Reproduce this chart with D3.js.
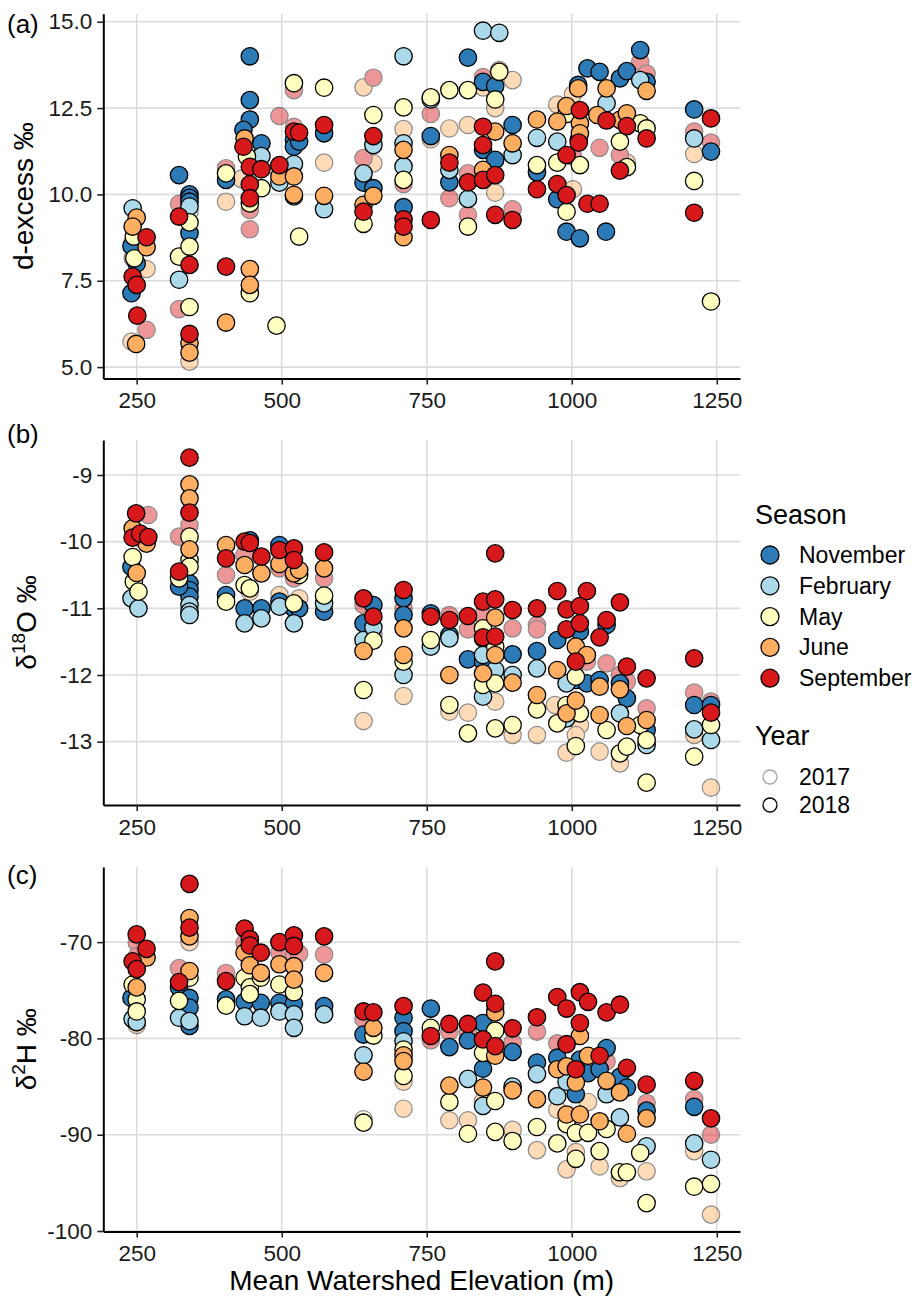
<!DOCTYPE html>
<html><head><meta charset="utf-8">
<script src="https://cdn.jsdelivr.net/npm/d3@7"></script>
<style>body{margin:0;background:#fff}svg{display:block}</style>
</head><body>
<svg id="chart" width="915" height="1299"></svg>
<script>
const seasons = ["Nov","Feb","May","Jun","Sep"];
const seasonNames = ["November","February","May","June","September"];
const seasonColors = ["#2C7BB6","#ABD9E9","#FFFFBF","#FDAE61","#D7191C"];
const years = ["2017","2018"];
const xTicks = [250,500,750,1000,1250];

// [elevation, season, value]
const dxs2018 = [[243,"Feb",9.6],[250,"Jun",9.33],[243,"Jun",9.07],[245,"May",8.78],[241,"Nov",8.51],[246,"May",8.15],[250,"Nov",8.0],[243,"Sep",7.62],[250,"Sep",7.38],[241,"Nov",7.14],[251,"Sep",6.49],[249,"Jun",5.67],
[267,"Sep",8.76],[267,"Jun",8.47],[323,"Nov",10.56],[323,"Sep",9.36],[323,"May",8.2],[323,"Feb",7.53],
[341,"Nov",10.0],[341,"Nov",9.9],[341,"Nov",9.79],[341,"Feb",9.65],[341,"May",9.19],[341,"Nov",8.88],[341,"May",8.49],[341,"Sep",7.96],[341,"May",6.74],[341,"Sep",5.96],[341,"Jun",5.7],[341,"Jun",5.42],
[404,"May",10.61],[404,"Nov",10.42],[404,"Sep",7.91],[404,"Jun",6.29],
[445,"Nov",14.0],[445,"Nov",12.73],[445,"Nov",12.17],[434,"Nov",11.87],[436,"Jun",11.62],[434,"Sep",11.38],[440,"May",11.1],[445,"Sep",10.8],[445,"Sep",10.29],[445,"Sep",9.89],[445,"May",9.74],[445,"Jun",7.84],[445,"Jun",7.38],[445,"May",7.14],
[465,"Nov",11.48],[465,"Feb",11.11],[465,"Sep",10.73],[465,"May",10.18],
[496,"Sep",10.85],[496,"Jun",10.52],[496,"Feb",10.34],[491,"May",6.2],
[521,"May",13.22],[521,"Sep",11.82],[521,"Nov",11.58],[521,"Nov",11.38],[521,"Feb",10.88],[521,"Jun",10.52],[521,"Jun",9.99],[521,"Feb",9.94],
[530,"Sep",11.79],[530,"Nov",11.53],[530,"May",8.78],
[573,"May",13.09],[573,"Sep",12.01],[573,"Nov",11.77],[573,"Jun",9.96],[573,"Feb",9.57],
[641,"Feb",10.61],[641,"Nov",10.34],[641,"Jun",9.7],[641,"Sep",9.5],[641,"May",9.15],
[658,"May",12.3],[658,"Sep",11.69],[658,"Feb",11.43],[658,"Nov",10.18],[658,"Jun",9.96],
[710,"Feb",14.0],[710,"May",12.52],[710,"Feb",11.48],[710,"Jun",11.29],[710,"Feb",10.81],[710,"May",10.42],[710,"Nov",9.63],[710,"Sep",9.28],[710,"Sep",9.07],[710,"Jun",8.76],
[757,"May",12.81],[757,"Feb",12.75],[757,"Nov",11.69],[757,"Sep",9.26],
[789,"May",13.02],[789,"Jun",11.14],[789,"Sep",10.92],[789,"Feb",10.71],[789,"Nov",10.35],
[821,"Nov",13.96],[821,"May",13.02],[821,"Sep",10.35],[821,"Feb",9.87],[821,"May",9.07],
[847,"Feb",14.74],[847,"Nov",13.26],[847,"Sep",11.96],[847,"Sep",11.43],[847,"Nov",11.29],[847,"Jun",10.71],[847,"Sep",10.42],
[868,"Nov",13.14],[868,"May",12.75],[868,"Jun",11.82],[868,"Nov",11.0],[868,"Sep",10.56],[868,"Sep",9.41],
[875,"Feb",14.68],[875,"May",13.55],
[898,"Nov",12.01],[898,"Jun",11.48],[898,"Feb",11.14],[898,"Sep",9.26],
[940,"Jun",12.17],[940,"Feb",11.64],[940,"May",10.85],[940,"Nov",10.64],[940,"Sep",10.15],
[975,"Jun",12.11],[975,"Feb",11.53],[975,"May",10.92],[975,"Sep",10.3],[975,"Nov",9.86],
[991,"Jun",12.56],[991,"May",12.33],[991,"Sep",11.14],[991,"Sep",9.98],[991,"May",9.5],[991,"Nov",8.92],
[1011,"Nov",13.17],[1011,"Jun",13.07],[1014,"Sep",12.44],[1014,"Jun",12.06],[1014,"Jun",11.77],[1012,"Nov",11.58],[1012,"Sep",11.5],[1014,"May",10.85],
[1014,"Nov",8.73],[1027,"Nov",13.65],[1027,"Sep",9.73],
[1048,"Nov",13.55],[1060,"Jun",13.07],[1060,"Feb",12.64],[1044,"Jun",12.3],[1060,"Sep",12.14],[1048,"Sep",9.73],
[1059,"Nov",8.92],
[1083,"Nov",13.36],[1083,"Jun",12.16],[1083,"May",11.53],[1083,"Sep",10.69],
[1095,"Nov",13.57],[1095,"Jun",12.35],[1095,"Sep",11.98],[1095,"May",10.79],
[1118,"Nov",14.18],[1118,"Feb",13.31],[1118,"May",12.06],
[1129,"Nov",13.26],[1129,"Jun",13.0],[1129,"May",11.91],[1129,"Sep",11.62],
[1211,"Nov",12.46],[1211,"Feb",11.62],[1211,"May",10.39],[1211,"Sep",9.47],
[1240,"Sep",12.2],[1240,"Nov",11.24],[1240,"May",6.9]];

const dxs2017 = [[243,"Nov",8.6],[243,"Sep",8.15],[267,"Jun",7.84],[267,"Sep",6.08],[241,"Jun",5.74],[323,"Sep",9.73],[323,"Sep",6.68],[341,"Feb",9.5],[341,"Jun",5.16],[404,"Sep",10.76],[404,"Jun",9.79],[430,"Jun",10.45],[445,"Sep",8.99],[445,"Sep",9.55],[496,"Sep",12.27],[521,"Sep",13.02],[521,"Sep",11.96],[573,"Jun",10.92],[641,"Jun",13.1],[641,"Sep",11.05],[658,"Sep",13.38],[658,"Jun",10.9],[710,"Jun",11.89],[710,"Sep",10.3],[757,"Sep",12.33],[757,"Jun",11.6],[789,"Jun",11.91],[789,"Sep",9.89],[821,"Jun",12.01],[821,"Sep",10.61],[821,"Sep",9.41],[847,"Sep",13.4],[847,"Jun",13.1],[868,"Jun",12.5],[868,"Jun",10.05],[875,"Sep",13.6],[898,"Jun",13.31],[898,"Sep",9.57],[975,"Jun",12.6],[1002,"Jun",12.9],[1002,"Sep",11.1],[1002,"Jun",10.15],[1048,"Sep",11.35],[1083,"Sep",11.14],[1095,"Jun",10.92],[1118,"Sep",13.84],[1129,"Sep",13.5],[1211,"Sep",11.82],[1211,"Jun",11.17],[1240,"Sep",11.5]];

const o18_2018 = [[249,"Sep",-9.575],[243,"Sep",-9.94],[256,"Sep",-9.88],[270,"Sep",-9.93],[267,"Jun",-10.03],[243,"Jun",-9.8],[243,"May",-10.23],[241,"Nov",-10.38],[250,"Jun",-10.47],[245,"May",-10.6],[253,"May",-10.75],[241,"Feb",-10.85],[253,"Feb",-11.0],
[341,"Sep",-8.74],[341,"Jun",-9.14],[341,"Jun",-9.35],[341,"Sep",-9.565],[341,"May",-9.925],[341,"Jun",-10.115],[341,"May",-10.275],[341,"May",-10.375],[341,"Nov",-10.625],[341,"Nov",-10.725],[341,"Nov",-10.825],[341,"Feb",-10.95],[341,"Feb",-11.05],[341,"Feb",-11.1],
[323,"Sep",-10.45],[323,"May",-10.55],[323,"Nov",-10.675],
[404,"Jun",-10.05],[404,"Sep",-10.25],[404,"Nov",-10.8],[404,"May",-10.9],
[436,"Sep",-10.0],[436,"Jun",-10.35],[436,"May",-10.65],[436,"Nov",-11.0],[436,"Feb",-11.225],
[445,"Nov",-9.98],[445,"Sep",-10.02],[445,"May",-10.7],
[465,"Sep",-10.225],[465,"Jun",-10.475],[465,"Nov",-11.0],[465,"Feb",-11.15],
[496,"Nov",-10.05],[496,"Sep",-10.125],[496,"Jun",-10.335],[496,"Feb",-10.975],[496,"Nov",-10.9],
[521,"Sep",-10.1],[521,"Sep",-10.275],[521,"Jun",-10.475],[521,"May",-10.925],[521,"Nov",-11.0],[521,"Feb",-11.225],
[530,"Jun",-10.425],[530,"May",-10.5],[530,"Nov",-11.0],
[573,"Sep",-10.16],[573,"Jun",-10.4],[573,"May",-10.81],[573,"Feb",-10.925],[573,"Nov",-11.05],
[641,"Sep",-10.85],[641,"Nov",-11.225],[641,"Feb",-11.475],[641,"Jun",-11.64],[641,"May",-12.225],
[658,"Nov",-10.95],[658,"Sep",-11.125],[658,"Feb",-11.285],[658,"May",-11.485],
[710,"Sep",-10.725],[710,"Nov",-10.85],[710,"Nov",-11.1],[710,"Jun",-11.3],[710,"Jun",-11.7],[710,"May",-11.8],[710,"Feb",-12.0],
[757,"Nov",-11.075],[757,"Sep",-11.125],[757,"May",-11.475],[757,"Feb",-11.575],
[789,"Sep",-11.175],[789,"Nov",-11.4],[789,"Feb",-11.45],[789,"Jun",-12.0],[789,"May",-12.45],
[821,"Sep",-11.115],[821,"Nov",-11.765],[821,"May",-12.875],
[847,"Sep",-10.9],[847,"May",-11.3],[847,"Nov",-11.45],[847,"Sep",-11.435],[847,"Feb",-11.7],[847,"Nov",-11.8],[847,"Jun",-11.975],[847,"May",-12.15],[847,"Feb",-12.325],
[868,"Sep",-10.175],[868,"Sep",-10.865],[868,"Jun",-11.14],[868,"Sep",-11.425],[868,"May",-11.575],[868,"Jun",-11.7],[868,"Feb",-11.925],[868,"May",-12.125],[868,"May",-12.8],
[898,"Sep",-11.025],[898,"Nov",-11.69],[898,"Feb",-12.0],[898,"Jun",-12.115],[898,"May",-12.75],
[940,"Sep",-11.0],[940,"Nov",-11.64],[940,"Feb",-11.9],[940,"Jun",-12.3],[940,"May",-12.515],
[975,"Sep",-10.74],[975,"Nov",-11.475],[975,"Jun",-11.925],[975,"May",-12.725],
[991,"Sep",-11.015],[991,"Sep",-11.315],[991,"Feb",-12.125],[991,"May",-12.45],[991,"Jun",-12.575],[991,"Feb",-12.65],
[1007,"Jun",-11.575],[1007,"Sep",-11.8],[1007,"May",-12.025],[1007,"Nov",-12.075],[1007,"Jun",-12.385],[1007,"May",-13.065],
[1014,"Sep",-10.965],[1014,"Sep",-11.225],[1014,"Nov",-11.35],[1014,"May",-12.575],
[1026,"Sep",-10.74],[1026,"Jun",-11.7],[1026,"Nov",-12.125],
[1048,"Sep",-11.435],[1048,"Nov",-12.075],[1048,"Jun",-12.175],[1048,"Jun",-12.6],
[1060,"Sep",-11.175],[1060,"Nov",-11.25],[1060,"May",-12.825],
[1083,"Sep",-10.91],[1083,"Nov",-12.125],[1083,"Jun",-12.215],[1083,"Feb",-12.575],[1083,"May",-13.175],
[1095,"Sep",-11.875],[1095,"Nov",-12.35],[1095,"Jun",-12.765],[1095,"May",-13.075],
[1118,"May",-12.75],
[1129,"Sep",-12.05],[1129,"Nov",-12.825],[1129,"Jun",-12.675],[1129,"May",-12.975],[1129,"Feb",-13.05],[1129,"May",-13.615],
[1211,"Sep",-11.75],[1211,"Nov",-12.45],[1211,"Feb",-12.815],[1211,"May",-13.225],
[1240,"Nov",-12.45],[1240,"Sep",-12.565],[1240,"May",-12.75],[1240,"Feb",-12.975]];

const o18_2017 = [[270,"Sep",-9.6],[323,"Sep",-9.925],[341,"Sep",-9.75],[404,"Sep",-10.5],[436,"Sep",-10.2],[445,"Jun",-10.75],[496,"Jun",-10.8],[496,"Sep",-10.4],[521,"Sep",-10.55],[530,"Jun",-10.85],[573,"Sep",-10.55],[641,"Sep",-10.95],[641,"Jun",-12.69],[658,"Sep",-11.4],[710,"Sep",-11.0],[710,"Jun",-12.315],[789,"Sep",-11.1],[789,"Jun",-12.55],[821,"Sep",-11.315],[821,"Jun",-12.565],[847,"Sep",-11.1],[868,"Jun",-12.4],[898,"Sep",-11.3],[898,"Jun",-12.9],[940,"Sep",-11.25],[940,"Sep",-11.315],[940,"Jun",-12.9],[971,"Jun",-12.45],[991,"Jun",-13.165],[1048,"Jun",-13.15],[1026,"Sep",-11.8],[1060,"Sep",-11.825],[1083,"Sep",-12.0],[1083,"Jun",-13.325],[1095,"Sep",-12.1],[1129,"Sep",-12.5],[1211,"Sep",-12.265],[1211,"Jun",-12.9],[1240,"Sep",-12.4],[1240,"Jun",-13.69],[1014,"Jun",-12.75],[1007,"Jun",-12.9]];

const h2_2018 = [[250,"Sep",-69.2],[243,"Sep",-72.0],[250,"Sep",-72.8],[241,"Nov",-75.8],[243,"May",-74.4],[250,"Jun",-74.7],[250,"May",-75.95],[250,"May",-77.2],[243,"Feb",-78.0],[250,"Feb",-78.3],
[267,"Sep",-70.7],[267,"Jun",-71.6],
[323,"Sep",-74.15],[323,"Nov",-74.7],[323,"May",-76.1],[323,"Feb",-77.85],
[341,"Sep",-63.95],[341,"Jun",-67.5],[341,"Sep",-68.5],[341,"Jun",-69.4],[341,"Jun",-73.0],[341,"May",-73.7],[341,"Nov",-75.8],[341,"Nov",-76.8],[341,"Feb",-78.2],[341,"Nov",-78.7],
[404,"Sep",-74.05],[404,"Nov",-75.95],[404,"May",-76.6],
[436,"Sep",-68.6],[436,"Jun",-71.1],[436,"May",-73.7],[436,"Nov",-76.2],[436,"Feb",-77.7],
[445,"Sep",-69.7],[445,"Sep",-70.35],[445,"Jun",-72.4],[445,"May",-74.7],[445,"May",-75.4],
[464,"Sep",-71.1],[464,"Jun",-73.2],[464,"May",-73.7],[464,"Nov",-76.3],[464,"Feb",-77.85],
[496,"Sep",-70.0],[496,"Jun",-72.3],[496,"May",-74.4],[496,"Nov",-76.3],[496,"Feb",-77.2],
[521,"Sep",-69.3],[521,"Sep",-70.4],[521,"Jun",-72.5],[521,"Jun",-73.9],[521,"May",-75.2],[521,"Nov",-76.4],[521,"Feb",-77.5],[521,"Feb",-78.9],
[573,"Sep",-69.4],[573,"Jun",-73.2],[573,"Nov",-76.65],[573,"Feb",-77.5],
[641,"Sep",-77.2],[641,"Nov",-79.6],[641,"Feb",-81.75],[641,"Jun",-83.45],[641,"May",-88.75],
[658,"Sep",-77.3],[658,"Jun",-78.9],[658,"May",-79.7],
[710,"Sep",-76.65],[710,"Nov",-77.85],[710,"Nov",-79.25],[710,"Feb",-80.3],[710,"May",-81.15],[710,"Jun",-81.75],[710,"Jun",-82.35],[710,"May",-83.9],
[757,"Nov",-76.9],[757,"May",-78.9],[757,"Sep",-79.75],
[789,"Sep",-78.5],[789,"Nov",-80.9],[789,"Jun",-84.9],[789,"May",-86.6],
[821,"Sep",-78.5],[821,"Nov",-80.2],[821,"Feb",-84.2],[821,"May",-89.9],
[847,"Sep",-75.25],[847,"Nov",-78.4],[847,"Sep",-80.1],[847,"May",-81.5],[847,"Nov",-83.15],[847,"Jun",-85.1],[847,"Feb",-87.0],
[868,"Sep",-72.0],[868,"Sep",-76.4],[868,"Jun",-77.3],[868,"May",-79.2],[868,"Sep",-80.8],[868,"Jun",-81.8],[868,"May",-86.5],[868,"May",-89.7],
[898,"Sep",-78.95],[898,"Nov",-81.4],[898,"Feb",-85.0],[898,"Jun",-85.4],[898,"May",-90.65],
[940,"Sep",-77.8],[940,"Nov",-82.5],[940,"Feb",-83.7],[940,"Jun",-86.3],[940,"May",-89.2],
[975,"Sep",-75.7],[975,"Nov",-82.0],[975,"Jun",-83.2],[975,"Feb",-86.0],[975,"May",-90.9],
[991,"Sep",-76.9],[991,"Sep",-80.6],[991,"Jun",-82.9],[991,"Feb",-84.5],[991,"Jun",-87.9],[991,"May",-88.9],
[1007,"Sep",-83.2],[1007,"Jun",-84.6],[1007,"Nov",-85.8],[1007,"May",-89.8],[1007,"May",-92.5],
[1014,"Sep",-75.2],[1014,"Sep",-78.4],[1014,"Jun",-79.75],[1014,"Nov",-82.2],[1014,"Jun",-87.9],
[1028,"Sep",-76.2],[1028,"Jun",-81.8],[1028,"Nov",-83.6],[1028,"May",-89.8],
[1048,"Sep",-81.8],[1048,"Nov",-83.2],[1048,"Jun",-88.6],[1048,"May",-91.7],
[1060,"Sep",-77.3],[1060,"Nov",-81.0],[1060,"Jun",-84.4],[1060,"Feb",-85.8],[1060,"May",-89.4],
[1083,"Sep",-76.5],[1083,"Nov",-84.0],[1083,"Jun",-85.6],[1083,"Feb",-88.2],[1083,"May",-93.9],
[1095,"Sep",-83.05],[1095,"Nov",-85.1],[1095,"Jun",-89.9],[1095,"May",-93.9],
[1118,"May",-91.9],
[1129,"Sep",-84.8],[1129,"Nov",-87.5],[1129,"Jun",-88.3],[1129,"Feb",-91.2],[1129,"May",-97.1],
[1211,"Sep",-84.4],[1211,"Nov",-87.1],[1211,"Feb",-90.9],[1211,"May",-95.4],
[1240,"Sep",-88.3],[1240,"Feb",-92.6],[1240,"May",-95.1]];

const h2_2017 = [[250,"Sep",-70.07],[250,"Sep",-71.5],[250,"Jun",-78.6],[323,"Sep",-72.7],[341,"Jun",-70.0],[404,"Sep",-73.2],[436,"Sep",-70.1],[496,"Sep",-71.1],[521,"Sep",-71.3],[530,"Sep",-71.2],[573,"Sep",-71.3],[641,"Sep",-78.0],[641,"May",-88.4],[710,"Jun",-84.5],[710,"Jun",-87.3],[757,"Sep",-80.2],[789,"Sep",-79.3],[789,"Jun",-88.5],[821,"Sep",-79.4],[821,"Jun",-88.5],[847,"Jun",-86.5],[868,"Sep",-76.8],[898,"Sep",-80.4],[898,"Jun",-89.5],[940,"Sep",-79.3],[940,"Jun",-91.6],[975,"Sep",-80.5],[975,"Jun",-87.4],[991,"Jun",-93.6],[1007,"Jun",-91.8],[1028,"Jun",-86.6],[1048,"Jun",-93.3],[1060,"Sep",-82.4],[1083,"Jun",-94.5],[1129,"Sep",-86.7],[1129,"Jun",-93.8],[1211,"Sep",-86.3],[1211,"Jun",-91.7],[1240,"Sep",-90.0],[1240,"Jun",-98.3]];

const dxsTicks = [5,7.5,10,12.5,15];
const o18Ticks = [-13,-12,-11,-10,-9];
const h2Ticks = [-100,-90,-80,-70];

const FONT = "'Liberation Sans', Arial, Helvetica, sans-serif";
const svg = d3.select("#chart");
svg.append("rect").attr("width",915).attr("height",1299).attr("fill","#fff");

const x = d3.scaleLinear().domain([192.4,1290]).range([103.3,740]);
const color = d3.scaleOrdinal().domain(seasons).range(seasonColors);
const R = 8.7;
const hy = f => (d => f(d).replace("\u2212","-"));

const panels = [
  {tag:"(a)", tagY:33, d17:dxs2017, d18:dxs2018, domain:[4.67,15.23], range:[378.5,13.8], ticks:dxsTicks, fmt:hy(d3.format(".1f")), title:"a", titleX:33},
  {tag:"(b)", tagY:442.5, d17:o18_2017, d18:o18_2018, domain:[-13.95,-8.475], range:[805,440], ticks:o18Ticks, fmt:hy(d3.format("d")), title:"b", titleX:36},
  {tag:"(c)", tagY:884, d17:h2_2017, d18:h2_2018, domain:[-100.05,-62.2], range:[1231.5,867], ticks:h2Ticks, fmt:hy(d3.format("d")), title:"c", titleX:36}
];

panels.forEach(p => {
  const y = d3.scaleLinear().domain(p.domain).range(p.range);
  const g = svg.append("g");
  const [x0,x1] = x.range();
  const [yb,yt] = p.range;
  // grid
  g.append("g").selectAll("line").data(p.ticks).join("line")
    .attr("x1",x0).attr("x2",x1).attr("y1",d=>y(d)).attr("y2",d=>y(d))
    .attr("stroke","#dcdcdc").attr("stroke-width",1.6);
  g.append("g").selectAll("line").data(xTicks).join("line")
    .attr("y1",yt).attr("y2",yb).attr("x1",d=>x(d)).attr("x2",d=>x(d))
    .attr("stroke","#dcdcdc").attr("stroke-width",1.6);
  // points
  const order = d => seasons.indexOf(d[1]);
  const pts17 = p.d17.slice().sort((a,b)=>order(a)-order(b));
  const pts18 = p.d18.slice().sort((a,b)=>order(a)-order(b));
  g.append("g").attr("opacity",0.45).selectAll("circle").data(pts17).join("circle")
    .attr("cx",d=>x(d[0])).attr("cy",d=>y(d[2])).attr("r",R)
    .attr("fill",d=>color(d[1])).attr("stroke","#000").attr("stroke-width",1.2);
  g.append("g").selectAll("circle").data(pts18).join("circle")
    .attr("cx",d=>x(d[0])).attr("cy",d=>y(d[2])).attr("r",R)
    .attr("fill",d=>color(d[1])).attr("stroke","#000").attr("stroke-width",1.3);
  // axes
  const ay = g.append("g").attr("transform",`translate(${x0},0)`)
    .call(d3.axisLeft(y).tickValues(p.ticks).tickFormat(p.fmt).tickSize(6).tickSizeOuter(0).tickPadding(5));
  const ax = g.append("g").attr("transform",`translate(0,${yb})`)
    .call(d3.axisBottom(x).tickValues(xTicks).tickFormat(d3.format("d")).tickSize(6).tickSizeOuter(0).tickPadding(8));
  [ay,ax].forEach(a => {
    a.select(".domain").attr("stroke","#000").attr("stroke-width",2);
    a.selectAll(".tick line").attr("stroke","#222").attr("stroke-width",1.6);
    a.selectAll(".tick text").attr("fill","#1a1a1a").style("font-family",FONT).style("font-size","22.5px");
  });
  // tag
  svg.append("text").attr("x",7).attr("y",p.tagY).text(p.tag)
    .style("font-family",FONT).style("font-size","26px").attr("fill","#000");
  // y title
  const cy = (yb+yt)/2;
  const t = svg.append("text").attr("transform",`translate(${p.titleX},${cy}) rotate(-90)`)
    .attr("text-anchor","middle").style("font-family",FONT).style("font-size","28px").attr("fill","#000");
  if (p.title==="a") {
    t.text("d-excess ‰");
  } else if (p.title==="b") {
    t.append("tspan").text("δ");
    t.append("tspan").attr("dy",-11).style("font-size","19px").text("18");
    t.append("tspan").attr("dy",11).text("O ‰");
  } else {
    t.append("tspan").text("δ");
    t.append("tspan").attr("dy",-11).style("font-size","19px").text("2");
    t.append("tspan").attr("dy",11).text("H ‰");
  }
});

// x title
svg.append("text").attr("x",421.7).attr("y",1290).attr("text-anchor","middle")
  .style("font-family",FONT).style("font-size","28px").attr("fill","#000")
  .text("Mean Watershed Elevation (m)");

// legend
const lg = svg.append("g");
lg.append("text").attr("x",755).attr("y",524).text("Season")
  .style("font-family",FONT).style("font-size","27px").attr("fill","#000");
seasonNames.forEach((n,i) => {
  const cy = 555 + i*30.8;
  lg.append("circle").attr("cx",770).attr("cy",cy).attr("r",9)
    .attr("fill",seasonColors[i]).attr("stroke","#000").attr("stroke-width",1.3);
  lg.append("text").attr("x",799).attr("y",cy+8).text(n)
    .style("font-family",FONT).style("font-size","23px").attr("fill","#000");
});
lg.append("text").attr("x",755).attr("y",745).text("Year")
  .style("font-family",FONT).style("font-size","27px").attr("fill","#000");
years.forEach((yv,i) => {
  const cy = 777 + i*28;
  lg.append("circle").attr("cx",770).attr("cy",cy).attr("r",7)
    .attr("fill","none").attr("stroke", i===0 ? "#a6a6a6" : "#000").attr("stroke-width",1.3);
  lg.append("text").attr("x",799).attr("y",cy+8).text(yv)
    .style("font-family",FONT).style("font-size","23px").attr("fill","#000");
});
</script>
</body></html>
